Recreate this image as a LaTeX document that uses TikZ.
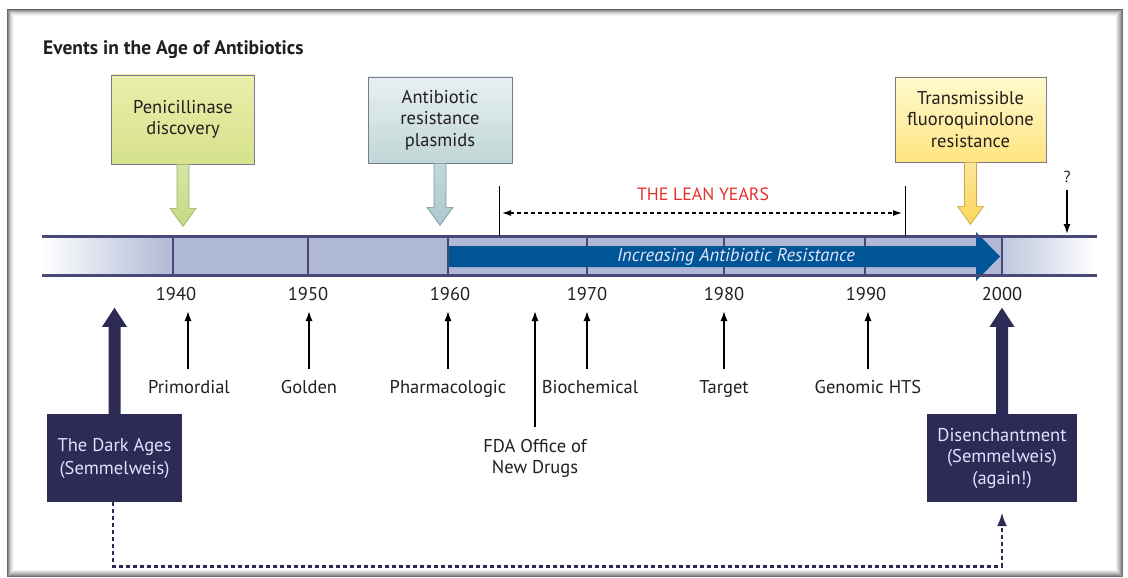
\documentclass[tikz,border=0pt]{standalone}
\usepackage{fontspec}
\setmainfont{PT Sans}
\usetikzlibrary{calc,arrows.meta}
\definecolor{barfill}{RGB}{175,185,214}
\definecolor{barline}{RGB}{74,72,120}
\definecolor{bluearr}{RGB}{0,85,150}
\definecolor{navy}{RGB}{45,42,86}
\definecolor{boxline}{RGB}{125,120,150}
\definecolor{leanred}{RGB}{232,48,42}
\definecolor{txt}{RGB}{35,31,32}
\definecolor{penT}{RGB}{234,238,170}
\definecolor{penB}{RGB}{214,226,140}
\definecolor{penA}{RGB}{196,218,130}
\definecolor{penO}{RGB}{150,175,100}
\definecolor{plaT}{RGB}{232,240,240}
\definecolor{plaB}{RGB}{192,214,214}
\definecolor{plaA}{RGB}{170,200,204}
\definecolor{plaO}{RGB}{120,150,160}
\definecolor{traT}{RGB}{255,250,206}
\definecolor{traB}{RGB}{255,228,128}
\definecolor{traA}{RGB}{250,214,90}
\definecolor{traO}{RGB}{200,165,60}
\newcommand\coarrow[4]{%
  \draw[draw=#4, line width=0.6pt, top color=#2, bottom color=#3]
    ($(#1.south)+(-6,0)$) -- ($(#1.south)+(-6,44)$) -- ($(#1.south)+(-13,44)$)
    -- ($(#1.south)+(0,62)$) -- ($(#1.south)+(13,44)$) -- ($(#1.south)+(6,44)$)
    -- ($(#1.south)+(6,0)$) -- cycle;}
\newcommand\uparr[1]{%
  \fill[navy] ($(#1.north)+(-6,0)$) -- ($(#1.north)+(-6,-87)$) -- ($(#1.north)+(-12.5,-87)$)
    -- ($(#1.north)+(0,-106)$) -- ($(#1.north)+(12.5,-87)$) -- ($(#1.north)+(6,-87)$)
    -- ($(#1.north)+(6,0)$) -- cycle;}
\tikzset{
  lbl/.style={font=\fontsize{18.5}{21.5}\selectfont, text=txt, inner sep=0pt, align=center},
  baselbl/.style={lbl, anchor=base},
  callbox/.style={draw=boxline, line width=0.8pt, lbl},
  darkbox/.style={fill=navy, lbl, text=white!88!blue, font=\fontsize{18.5}{23}\selectfont},
  smallarr/.style={-{Latex[length=10pt,width=7pt]}, line width=1.4pt, black},
  bar/.style={barline, line width=2.4pt},
  divider/.style={barline, line width=1.6pt},
}
\begin{document}
\begin{tikzpicture}[x=1pt,y=-1pt]
\useasboundingbox (0,0) rectangle (1128,578);
\fill[white] (0,0) rectangle (1128,578);
% frame
\foreach \i/\g in {0/60,1/45,2/32,3/22,4/14,5/8,6/4}
  \draw[black!\g, line width=1.1pt] (7.5+\i,9.5+\i) rectangle (1122.5-\i,576.5-\i);
\foreach \i/\g in {0/55,1/45,2/36,3/28,4/20,5/13,6/7}
  \draw[black!\g, line width=1.1pt] (1122.5-\i,9.5+\i) -- (1122.5-\i,576.5-\i) -- (7.5+\i,576.5-\i);

% title
\node[anchor=west, font=\fontsize{19.5}{22}\selectfont\bfseries, text=txt, inner sep=0pt] (title) at (43,50) {Events in the Age of Antibiotics};

% timeline bar
\shade[left color=white, right color=barfill] (42,237) rectangle (173,275);
\fill[barfill] (173,237) rectangle (1002,275);
\shade[left color=barfill!80!white, right color=white] (1002,237) rectangle (1097,275);
\foreach \x in {173,308,448,587,724,865,1002}
  \draw[divider] (\x,237) -- (\x,275);
\fill[bluearr] (449,246) -- (976,246) -- (976,232) -- (1000,256.5) -- (976,281) -- (976,267) -- (449,267) -- cycle;
\draw[bar] (42,236.5) -- (1097,236.5);
\draw[bar] (42,275.5) -- (1097,275.5);
\node[font=\fontsize{18.5}{21}\selectfont\itshape, text=white!90!blue, inner sep=0pt] (incr) at (736,257) {Increasing Antibiotic Resistance};

% years
\foreach \x/\yr in {176/1940,308/1950,450/1960,587/1970,724/1980,866/1990,1002/2000}
  \node[baselbl] (y\yr) at (\x,300.5) {\yr};

% callout boxes
\node[callbox, top color=penT, bottom color=penB, minimum width=143pt, minimum height=89pt] (pen) at (183,119.5) {Penicillinase\\discovery};
\node[callbox, top color=plaT, bottom color=plaB, minimum width=144pt, minimum height=86pt] (pla) at (440,120) {Antibiotic\\resistance\\plasmids};
\node[callbox, top color=traT, bottom color=traB, minimum width=151pt, minimum height=85pt] (tra) at (970.5,119.5) {Transmissible\\fluoroquinolone\\resistance};
\coarrow{pen}{penA!70!white}{penA}{penO}
\coarrow{pla}{plaA!70!white}{plaA}{plaO}
\coarrow{tra}{traA!60!white}{traA}{traO}

% question mark
\node[baselbl, font=\fontsize{16}{18}\selectfont] (q) at (1067,182) {?};
\coordinate (qtip) at (1067,234);
\draw[smallarr] (1067,190) -- (qtip);

% lean years
\coordinate (lyLtop) at (499,186);
\coordinate (lyLbot) at (499,236);
\coordinate (lyRtop) at (905,186);
\coordinate (lyRbot) at (905,236);
\draw[black, line width=0.9pt] (lyLtop) -- (lyLbot);
\draw[black, line width=0.9pt] (lyRtop) -- (lyRbot);
\coordinate (lyL) at (502,213);
\coordinate (lyR) at (902,213);
\draw[black, line width=1.1pt, dash pattern=on 4pt off 3pt, {Latex[length=9pt,width=6pt]}-{Latex[length=9pt,width=6pt]}] (lyL) -- (lyR);
\node[baselbl, text=leanred, font=\fontsize{17.8}{20}\selectfont] (lean) at (703,200) {THE LEAN YEARS};

% era labels with arrows
\foreach \n/\x/\t in {prim/189/Primordial,gold/309/Golden,pharm/448/Pharmacologic,bio/590/Biochemical,targ/724/Target,geno/868/Genomic HTS}
  \node[baselbl] (\n) at (\x,393) {\t};
\foreach \n/\yr/\x in {prim/1940/188,gold/1950/309,pharm/1960/448,bio/1970/587,targ/1980/724,geno/1990/868}
  \draw[smallarr] (\x,369) -- (\x,311);
\node[lbl] (fda) at (535,458.5) {FDA Office of\\New Drugs};
\draw[smallarr] (535,427) -- (535,311);

% dark boxes
\node[darkbox, minimum width=135pt, minimum height=88pt] (dark) at (114.5,458) {The Dark Ages\\(Semmelweis)};
\node[darkbox, minimum width=150pt, minimum height=88pt, font=\fontsize{18.5}{21.5}\selectfont] (dis) at (1002,458) {Disenchantment\\(Semmelweis)\\(again!)};
\uparr{dark}
\uparr{dis}

% dotted return connector
\coordinate (disin) at ($(dis.south)+(0,10)$);
\draw[navy, line width=2.6pt, dash pattern=on 4pt off 3pt, -{Latex[length=14pt,width=10pt]}]
  ($(dark.south)+(-1.5,0)$) -- ++(0,64) -| (disin);
\end{tikzpicture}
\end{document}
